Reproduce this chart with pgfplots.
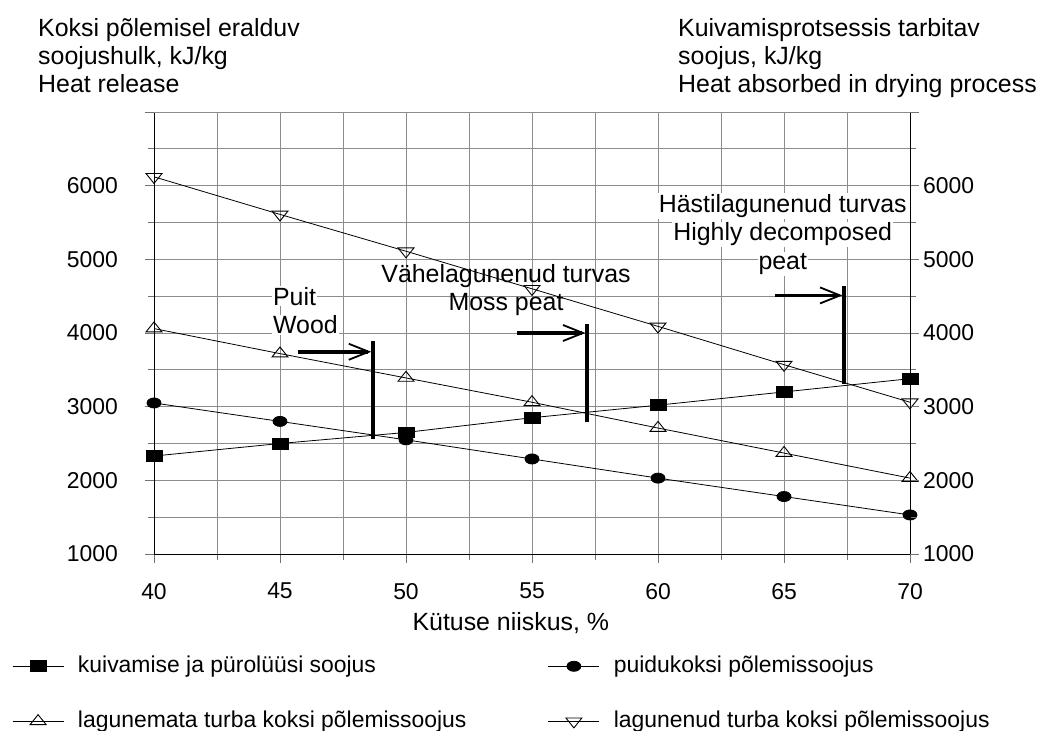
\documentclass[border=0pt]{standalone}
\usepackage{fontspec}
\setmainfont{Liberation Sans}
\usepackage{pgfplots}
\pgfplotsset{compat=1.18}
\usetikzlibrary{arrows.meta}

\newcommand{\bigf}{\fontsize{25}{28}\selectfont}
\newcommand{\tickf}{\fontsize{23}{27}\selectfont}

\begin{document}
\begin{tikzpicture}
\path[use as bounding box] (0bp,0bp) rectangle (1043bp,731bp);

% titles
\node[anchor=base west, font=\bigf, inner sep=0pt] at (38bp,694bp) {Koksi põlemisel eralduv};
\node[anchor=base west, font=\bigf, inner sep=0pt] at (38bp,666bp) {soojushulk, kJ/kg};
\node[anchor=base west, font=\bigf, inner sep=0pt] at (38bp,638bp) {Heat release};
\node[anchor=base west, font=\bigf, inner sep=0pt] at (678bp,694bp) {Kuivamisprotsessis tarbitav};
\node[anchor=base west, font=\bigf, inner sep=0pt] at (678bp,666bp) {soojus, kJ/kg};
\node[anchor=base west, font=\bigf, inner sep=0pt] at (678bp,638bp) {Heat absorbed in drying process};

\begin{axis}[
  at={(154bp,177bp)}, anchor=south west,
  scale only axis, width=756bp, height=442bp,
  xmin=40, xmax=70, ymin=1000, ymax=7000,
  xtick={40,45,...,70}, ytick={1000,2000,...,6000},
  minor xtick={42.5,47.5,...,67.5}, minor ytick={1500,2500,...,6500},
  extra y ticks={7000}, extra y tick labels={},
  grid=both,
  major grid style={black!45, line width=0.8bp},
  minor grid style={black!45, line width=0.8bp},
  xtick pos=bottom, ytick pos=left, tick align=outside,
  major tick length=9bp, minor tick length=6bp,
  every tick/.style={black!55, line width=0.8bp},
  axis line style={black, line width=0.9bp},
  /pgf/number format/assume math mode=true,
  /pgf/number format/1000 sep={},
  tick label style={font=\tickf, inner sep=0pt},
  xticklabel style={anchor=north, yshift=-20bp},
  yticklabel style={anchor=east, xshift=-27bp},
  xlabel={Kütuse niiskus, \%},
  xlabel style={font=\bigf, inner sep=0pt, at={(axis description cs:0.472,-0.1721)}, anchor=base},
  legend columns=2,
  legend cell align=left,
  legend style={draw=none, fill=none, inner sep=0pt,
    at={(axis description cs:-0.18783,-0.2287)}, anchor=north west,
    font=\tickf,
    nodes={inner sep=0pt, text height=17bp, text depth=5bp},
    /tikz/every odd column/.append style={column sep=14bp},
    /tikz/every even column/.append style={column sep=0bp},
    row sep=33bp},
  legend image code/.code={\draw[mark repeat=2,mark phase=2,#1] plot coordinates {(0bp,0bp) (25.5bp,0bp) (51bp,0bp)};},
]
\addplot[black, line width=0.8bp, mark=square*, mark size=8bp, mark options={yscale=0.68, solid}]
  coordinates {(40,2330) (45,2500) (50,2650) (55,2850) (60,3020) (65,3200) (70,3380)};
\addlegendentry{\makebox[470bp][l]{kuivamise ja pürolüüsi soojus}}
\addplot[black, line width=0.8bp, mark=*, mark size=7bp, mark options={yscale=0.72, solid}]
  coordinates {(40,3050) (45,2800) (50,2550) (55,2290) (60,2030) (65,1780) (70,1530)};
\addlegendentry{puidukoksi põlemissoojus}
\addplot[black, line width=0.8bp, mark=triangle, mark size=9.2bp, mark options={yscale=0.72, solid, line width=0.9bp}]
  coordinates {(40,4060) (45,3720) (50,3390) (55,3060) (60,2710) (65,2370) (70,2030)};
\addlegendentry{\makebox[470bp][l]{lagunemata turba koksi põlemissoojus}}
\addplot[black, line width=0.8bp, mark=triangle, mark size=9.2bp, mark options={yscale=-0.72, solid, line width=0.9bp}]
  coordinates {(40,6120) (45,5610) (50,5110) (55,4600) (60,4090) (65,3570) (70,3060)};
\addlegendentry{lagunenud turba koksi põlemissoojus}

% annotations
\draw[line width=4bp] (axis cs:48.7,2560) -- (axis cs:48.7,3890);
\draw[line width=3.5bp, -{Straight Barb[length=20bp,width=16bp,line width=1.8bp]}] (axis cs:45.7,3745) -- (axis cs:48.62,3745);
\draw[line width=4bp] (axis cs:57.2,2790) -- (axis cs:57.2,4125);
\draw[line width=3.5bp, -{Straight Barb[length=20bp,width=16bp,line width=1.8bp]}] (axis cs:54.4,4000) -- (axis cs:57.12,4000);
\draw[line width=4bp] (axis cs:67.4,3310) -- (axis cs:67.4,4636);
\draw[line width=3.5bp, -{Straight Barb[length=20bp,width=16bp,line width=1.8bp]}] (axis cs:64.65,4510) -- (axis cs:67.32,4510);

\node[anchor=base west, font=\bigf, inner sep=1bp, fill=white] at (axis cs:44.68,4377) {Puit};
\node[anchor=base west, font=\bigf, inner sep=1bp, fill=white] at (axis cs:44.68,3991) {Wood};
\node[anchor=base, font=\bigf, inner sep=0pt] at (axis cs:53.97,4692) {Vähelagunenud turvas};
\node[anchor=base, font=\bigf, inner sep=0pt] at (axis cs:53.97,4312) {Moss peat};
\node[anchor=base, font=\bigf, inner sep=1bp, fill=white] at (axis cs:64.95,5636) {Hästilagunenud turvas};
\node[anchor=base, font=\bigf, inner sep=1bp, fill=white] at (axis cs:64.95,5250) {Highly decomposed};
\node[anchor=base, font=\bigf, inner sep=1bp, fill=white] at (axis cs:64.95,4864) {peat};
\end{axis}

\begin{axis}[
  at={(154bp,177bp)}, anchor=south west,
  scale only axis, width=756bp, height=442bp,
  xmin=40, xmax=70, ymin=1000, ymax=7000,
  hide x axis, axis y line*=right,
  ytick={1000,2000,...,6000}, minor ytick={1500,2500,...,6500},
  extra y ticks={7000}, extra y tick labels={},
  tick align=outside, major tick length=9bp, minor tick length=6bp,
  every tick/.style={black!55, line width=0.8bp},
  axis line style={black, line width=0.9bp},
  /pgf/number format/assume math mode=true,
  /pgf/number format/1000 sep={},
  yticklabel style={font=\tickf, inner sep=0pt, anchor=west, xshift=4bp},
]
\end{axis}
\end{tikzpicture}
\end{document}
